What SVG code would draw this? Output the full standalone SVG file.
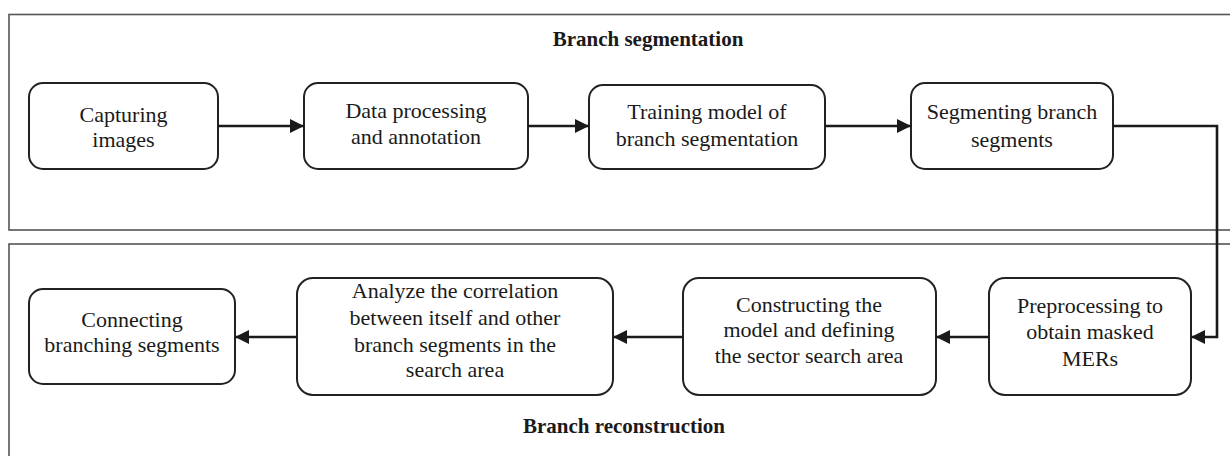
<svg xmlns="http://www.w3.org/2000/svg" width="1230" height="456" viewBox="0 0 1230 456">
  <style>
    .panel { fill: none; stroke: #555; stroke-width: 1.6; }
    .box { fill: #fff; stroke: #222; stroke-width: 2; }
    .lbl { font-family: "Liberation Serif", "Times New Roman", serif; font-size: 22px; fill: #1a1a1a; text-anchor: middle; }
    .title { font-family: "Liberation Serif", "Times New Roman", serif; font-size: 21px; font-weight: bold; fill: #1a1a1a; text-anchor: middle; }
    .conn { fill: none; stroke: #1a1a1a; stroke-width: 2.6; marker-end: url(#arrow); }
  </style>
  <defs>
    <marker id="arrow" markerUnits="userSpaceOnUse" markerWidth="15" markerHeight="14" refX="14" refY="7" orient="auto">
      <path d="M0,0 L14,7 L0,14 z" fill="#1a1a1a"/>
    </marker>
  </defs>
  <rect width="1230" height="456" fill="#fff"/>

  <!-- section panels -->
  <g id="panel-segmentation">
    <rect class="panel" x="9" y="14.5" width="1240" height="215.5"/>
    <text class="title" x="648" y="46">Branch segmentation</text>
  </g>
  <g id="panel-reconstruction">
    <rect class="panel" x="9" y="244" width="1240" height="230"/>
    <text class="title" x="624" y="433">Branch reconstruction</text>
  </g>

  <!-- top row -->
  <g id="capturing">
    <rect class="box" x="29" y="83" width="189" height="86" rx="14"/>
    <text class="lbl" x="123.5" y="122">Capturing</text>
    <text class="lbl" x="123.5" y="147">images</text>
  </g>
  <g id="data-processing">
    <rect class="box" x="304" y="83" width="224" height="86" rx="14"/>
    <text class="lbl" x="416" y="118">Data processing</text>
    <text class="lbl" x="416" y="144">and annotation</text>
  </g>
  <g id="training">
    <rect class="box" x="589" y="85" width="236" height="84" rx="14"/>
    <text class="lbl" x="707" y="119">Training model of</text>
    <text class="lbl" x="707" y="146">branch segmentation</text>
  </g>
  <g id="segmenting">
    <rect class="box" x="911" y="83" width="202" height="86" rx="14"/>
    <text class="lbl" x="1012" y="119">Segmenting branch</text>
    <text class="lbl" x="1012" y="147">segments</text>
  </g>

  <!-- bottom row -->
  <g id="preprocessing">
    <rect class="box" x="989" y="278" width="202" height="117" rx="16"/>
    <text class="lbl" x="1090" y="313">Preprocessing to</text>
    <text class="lbl" x="1090" y="339">obtain masked</text>
    <text class="lbl" x="1090" y="366">MERs</text>
  </g>
  <g id="constructing">
    <rect class="box" x="683" y="278" width="253" height="117" rx="16"/>
    <text class="lbl" x="809" y="312">Constructing the</text>
    <text class="lbl" x="809" y="337">model and defining</text>
    <text class="lbl" x="809" y="363">the sector search area</text>
  </g>
  <g id="analyze">
    <rect class="box" x="297" y="278" width="316" height="117" rx="16"/>
    <text class="lbl" x="455" y="298">Analyze the correlation</text>
    <text class="lbl" x="455" y="325">between itself and other</text>
    <text class="lbl" x="455" y="352">branch segments in the</text>
    <text class="lbl" x="455" y="377">search area</text>
  </g>
  <g id="connecting">
    <rect class="box" x="29" y="289" width="206" height="95" rx="14"/>
    <text class="lbl" x="132" y="327">Connecting</text>
    <text class="lbl" x="132" y="352">branching segments</text>
  </g>

  <!-- connectors -->
  <g id="connectors">
    <path class="conn" d="M218,126 H304"/>
    <path class="conn" d="M528,126 H589"/>
    <path class="conn" d="M825,126 H911"/>
    <path class="conn" d="M1113,126 H1217 V337 H1191"/>
    <path class="conn" d="M989,337 H936"/>
    <path class="conn" d="M683,337 H613"/>
    <path class="conn" d="M297,337 H235"/>
  </g>
</svg>
